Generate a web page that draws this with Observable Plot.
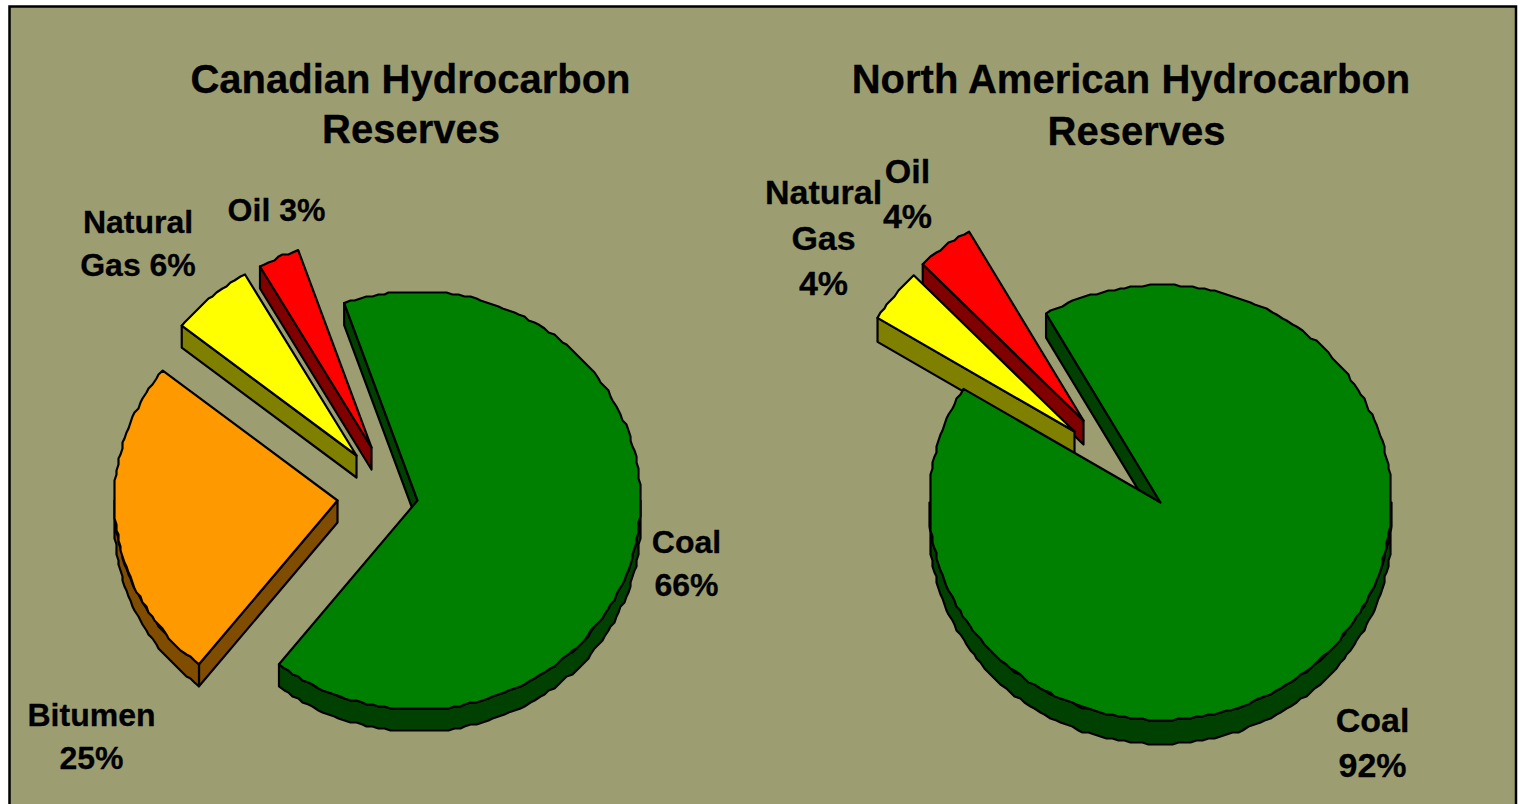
<!DOCTYPE html>
<html>
<head>
<meta charset="utf-8">
<script src="https://cdn.jsdelivr.net/npm/d3@7"></script>
<script src="https://cdn.jsdelivr.net/npm/@observablehq/plot@0.6"></script>
<style>
  html, body { margin: 0; padding: 0; background: #fff; overflow: hidden; }
  svg { display: block; }
</style>
</head>
<body>
<div id="chart"></div>
<script>
// Reserve shares, in percent, listed clockwise from the first slice.
const canadaCategories = ["Coal", "Bitumen", "Natural Gas", "Oil"];
const canadaShares = [66, 25, 6, 3];
const northAmericaCategories = ["Coal", "Natural Gas", "Oil"];
const northAmericaShares = [92, 4, 4];

const canadaTitleLines = ["Canadian Hydrocarbon", "Reserves"];
const northAmericaTitleLines = ["North American Hydrocarbon", "Reserves"];

// Fuel colours: top face and shaded wall.
const topColors = {"Coal": "#008000", "Bitumen": "#FF9900", "Natural Gas": "#FFFF00", "Oil": "#FF0000"};
const wallColors = {"Coal": "#004000", "Bitumen": "#804D00", "Natural Gas": "#808000", "Oil": "#800000"};

// Tilted-disc geometry of each pie, with the offset of every exploded slice.
const canadaLayout = {
  cx: 417, cy: 500, rx: 223, ry: 209, depth: 22, start: -19.2,
  offsets: {"Coal": [0, 0], "Bitumen": [-80, 0], "Natural Gas": [-61, -45], "Oil": [-46, -53]}
};
const northAmericaLayout = {
  cx: 1160, cy: 502, rx: 231, ry: 217.5, depth: 24, start: -29.7,
  offsets: {"Coal": [0, 0], "Natural Gas": [-86, -71], "Oil": [-77, -82]}
};

// Curved edges are snapped to a coarse grid, which gives them a stepped outline.
const rimGrid = 2;

// Builds closed polygons (walls first, then the top) for one pie, back slices first.
function pieFaces(id, categories, shares, layout) {
  const total = d3.sum(shares);
  const faces = [];
  let angle = layout.start;
  const slices = categories.map((name, i) => {
    const a = angle, b = angle + shares[i] / total * 360;
    angle = b;
    return {name, a, b};
  });
  const addFace = (key, fill, points) => {
    [...points, points[0]].forEach(([x, y]) => faces.push({key: `${id}-${key}`, fill, x, y}));
  };
  for (const {name, a, b} of slices.slice().reverse()) {
    const [ox, oy] = layout.offsets[name];
    const cx = layout.cx + ox, cy = layout.cy + oy;
    const rim = (t, drop = 0) => {
      const r = t * Math.PI / 180;
      return [cx + layout.rx * Math.sin(r), cy - layout.ry * Math.cos(r) + drop];
    };
    const snap = v => Math.round(v / rimGrid) * rimGrid;
    const arc = (from, to, drop = 0) => {
      const n = Math.max(2, Math.ceil((to - from) / 1.5));
      return d3.range(n + 1).map(k => {
        const [x, y] = rim(from + (to - from) * k / n, drop);
        return k === 0 || k === n ? [x, y] : [snap(x), snap(y)];
      });
    };
    const norm = t => ((t % 360) + 360) % 360;
    // Straight cut walls are seen only when they face downward.
    if (norm(a) > 180) {
      addFace(`${name}-start`, wallColors[name], [[cx, cy], rim(a), rim(a, layout.depth), [cx, cy + layout.depth]]);
    }
    if (norm(b) < 180) {
      addFace(`${name}-end`, wallColors[name], [[cx, cy], rim(b), rim(b, layout.depth), [cx, cy + layout.depth]]);
    }
    // The curved outer wall shows along the front half of the disc.
    const from = Math.max(a, 90), to = Math.min(b, 270);
    if (to > from) {
      addFace(`${name}-rim`, wallColors[name], [...arc(from, to), ...arc(from, to, layout.depth).reverse()]);
    }
    addFace(`${name}-top`, topColors[name], [[cx, cy], ...arc(a, b)]);
  }
  return faces;
}

const faces = [
  ...pieFaces("canada", canadaCategories, canadaShares, canadaLayout),
  ...pieFaces("northAmerica", northAmericaCategories, northAmericaShares, northAmericaLayout)
];

// Slice labels read their numbers from the share arrays.
const share = (categories, shares, name) => `${shares[categories.indexOf(name)]}%`;
const canadaLabels = [
  {text: `Coal\n${share(canadaCategories, canadaShares, "Coal")}`, x: 686, y: 560.5},
  {text: `Bitumen\n${share(canadaCategories, canadaShares, "Bitumen")}`, x: 91, y: 733.5},
  {text: `Natural\nGas ${share(canadaCategories, canadaShares, "Natural Gas")}`, x: 137.5, y: 240.5},
  {text: `Oil ${share(canadaCategories, canadaShares, "Oil")}`, x: 276, y: 207}
];
const northAmericaLabels = [
  {text: `Coal\n${share(northAmericaCategories, northAmericaShares, "Coal")}`, x: 1372, y: 739.5},
  {text: `Natural\nGas\n${share(northAmericaCategories, northAmericaShares, "Natural Gas")}`, x: 823, y: 234.5},
  {text: `Oil\n${share(northAmericaCategories, northAmericaShares, "Oil")}`, x: 907, y: 190.5}
];
const titleLines = [
  {text: canadaTitleLines[0], x: 410, y: 80},
  {text: canadaTitleLines[1], x: 410.5, y: 130},
  {text: northAmericaTitleLines[0], x: 1130.5, y: 80},
  {text: northAmericaTitleLines[1], x: 1136, y: 132}
];

const fontFamily = "'Liberation Sans', Arial, sans-serif";
const textMark = (data, fontSize, lineHeight) => Plot.text(data, {
  x: "x", y: "y", text: "text", fontSize, lineHeight, fontFamily,
  fontWeight: "bold", fill: "#000", stroke: "#000", strokeWidth: 0.3,
  textAnchor: "middle", lineAnchor: "middle"
});

const chart = Plot.plot({
  width: 1520,
  height: 804,
  margin: 0,
  x: {domain: [0, 1520], range: [0, 1520], axis: null},
  y: {domain: [0, 804], range: [0, 804], axis: null},
  style: {background: "#fff"},
  marks: [
    // Olive panel with its black border, running off the bottom edge.
    Plot.rect([{x1: 9.5, x2: 1516, y1: 6.5, y2: 830}], {
      x1: "x1", x2: "x2", y1: "y1", y2: "y2",
      fill: "#9C9E72", stroke: "#000", strokeWidth: 2.5
    }),
    Plot.line(faces, {
      x: "x", y: "y", z: "key", fill: "fill",
      stroke: "#000", strokeWidth: 2.2, strokeLinejoin: "round", curve: "linear"
    }),
    textMark(canadaLabels, 32, 1.33),
    textMark(northAmericaLabels, 34, 1.34),
    textMark(titleLines, 40, 1)
  ]
});
document.getElementById("chart").appendChild(chart);
</script>
</body>
</html>
